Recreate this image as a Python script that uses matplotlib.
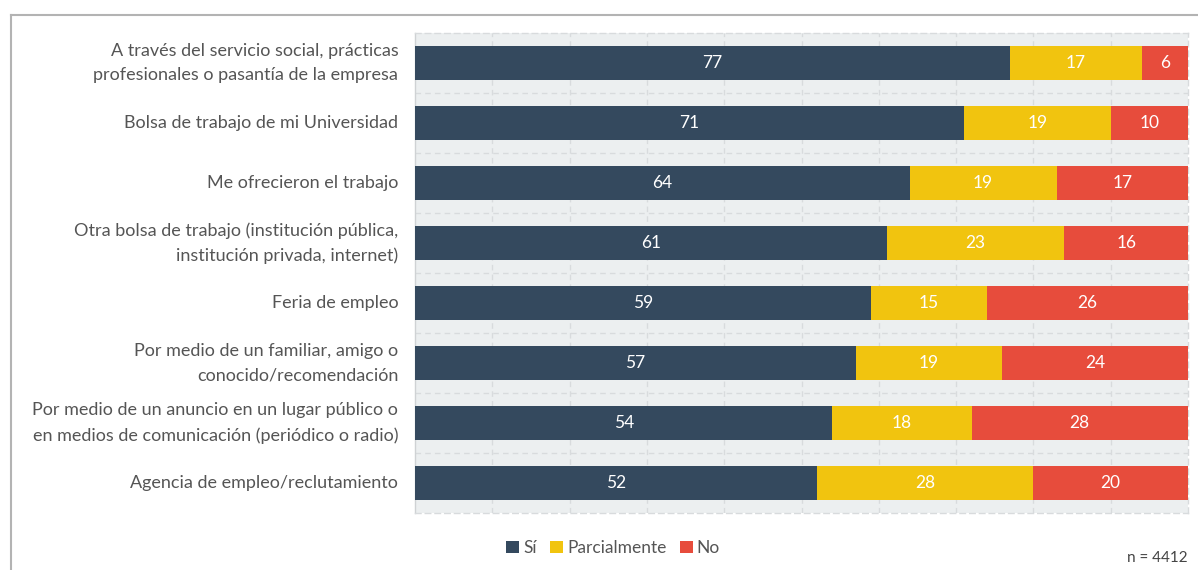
import matplotlib
matplotlib.use("Agg")
import matplotlib.pyplot as plt
from matplotlib.lines import Line2D
from matplotlib.patches import Patch
import numpy as np

plt.rcParams['font.family'] = ['Lato', 'DejaVu Sans']

categories = [
    "A través del servicio social, prácticas\nprofesionales o pasantía de la empresa",
    "Bolsa de trabajo de mi Universidad",
    "Me ofrecieron el trabajo",
    "Otra bolsa de trabajo (institución pública,\ninstitución privada, internet)",
    "Feria de empleo",
    "Por medio de un familiar, amigo o\nconocido/recomendación",
    "Por medio de un anuncio en un lugar público o\nen medios de comunicación (periódico o radio)",
    "Agencia de empleo/reclutamiento",
]
si = [77, 71, 64, 61, 59, 57, 54, 52]
parcial = [17, 19, 19, 23, 15, 19, 18, 28]
no = [6, 10, 17, 16, 26, 24, 28, 20]
series_names = ["Sí", "Parcialmente", "No"]
colors = ["#34495e", "#f1c40f", "#e74c3c"]
n_text = "n = 4412"

W, H = 1198, 570
fig = plt.figure(figsize=(W / 100, H / 100), dpi=100)
ax = fig.add_axes([415 / W, 1 - 513 / H, 773 / W, 480 / H])
ax.set_facecolor("#eceff0")

y = np.arange(len(categories))
left = np.zeros(len(categories))
for vals, col in zip([si, parcial, no], colors):
    vals = np.array(vals, dtype=float)
    ax.barh(y, vals, left=left, height=0.58, color=col, linewidth=0, zorder=3)
    for yi, l, v in zip(y, left, vals):
        ax.text(l + v / 2, yi, f"{int(v)}", ha="center", va="center",
                color="white", fontsize=12.5, zorder=4)
    left += vals

ax.set_xlim(0, 100)
ax.set_ylim(len(categories) - 0.5, -0.5)
ax.set_yticks(y)
ax.set_yticklabels(categories, fontsize=13, color="#555555", linespacing=1.65)
for lbl in ax.get_yticklabels():
    lbl.set_verticalalignment("center")
ax.tick_params(axis="y", length=0, pad=12)
ax.tick_params(axis="x", length=0, labelbottom=False)
ax.set_xticks(np.arange(10, 100, 10))
ax.set_yticks(np.arange(0.5, len(categories) - 0.5, 1), minor=True)
ax.tick_params(axis="y", which="minor", length=0)
ax.grid(True, axis="x", color="#d8dbdd", linestyle=(0, (4, 3)), linewidth=1, zorder=1)
ax.grid(True, axis="y", which="minor", color="#d8dbdd", linestyle=(0, (4, 3)), linewidth=1, zorder=1)
ax.grid(False, axis="y", which="major")
for side in ["top", "right", "bottom"]:
    ax.spines[side].set_color("#d8dbdd")
    ax.spines[side].set_linestyle((0, (4, 3)))
    ax.spines[side].set_linewidth(1)
ax.spines["left"].set_color("#cfd2d4")
ax.spines["left"].set_linewidth(1)

# outer frame
fx = 11 / W
fy = 1 - 15 / H
fig.add_artist(Line2D([fx, fx], [0, fy], transform=fig.transFigure, color="#b3b3b3", lw=1.5))
fig.add_artist(Line2D([fx, 1], [fy, fy], transform=fig.transFigure, color="#b3b3b3", lw=1.5))

handles = [Patch(facecolor=c, edgecolor="none") for c in colors]
fig.legend(handles, series_names, loc="center", bbox_to_anchor=(613 / W, 1 - 548 / H),
           ncol=3, frameon=False, fontsize=12.5, handlelength=0.75, handleheight=0.75,
           handletextpad=0.25, columnspacing=0.75, labelcolor="#555555")

fig.text(1188 / W, 1 - 558 / H, n_text, ha="right", va="center", fontsize=11, color="#444444")

fig.savefig("out.png", dpi=100)
